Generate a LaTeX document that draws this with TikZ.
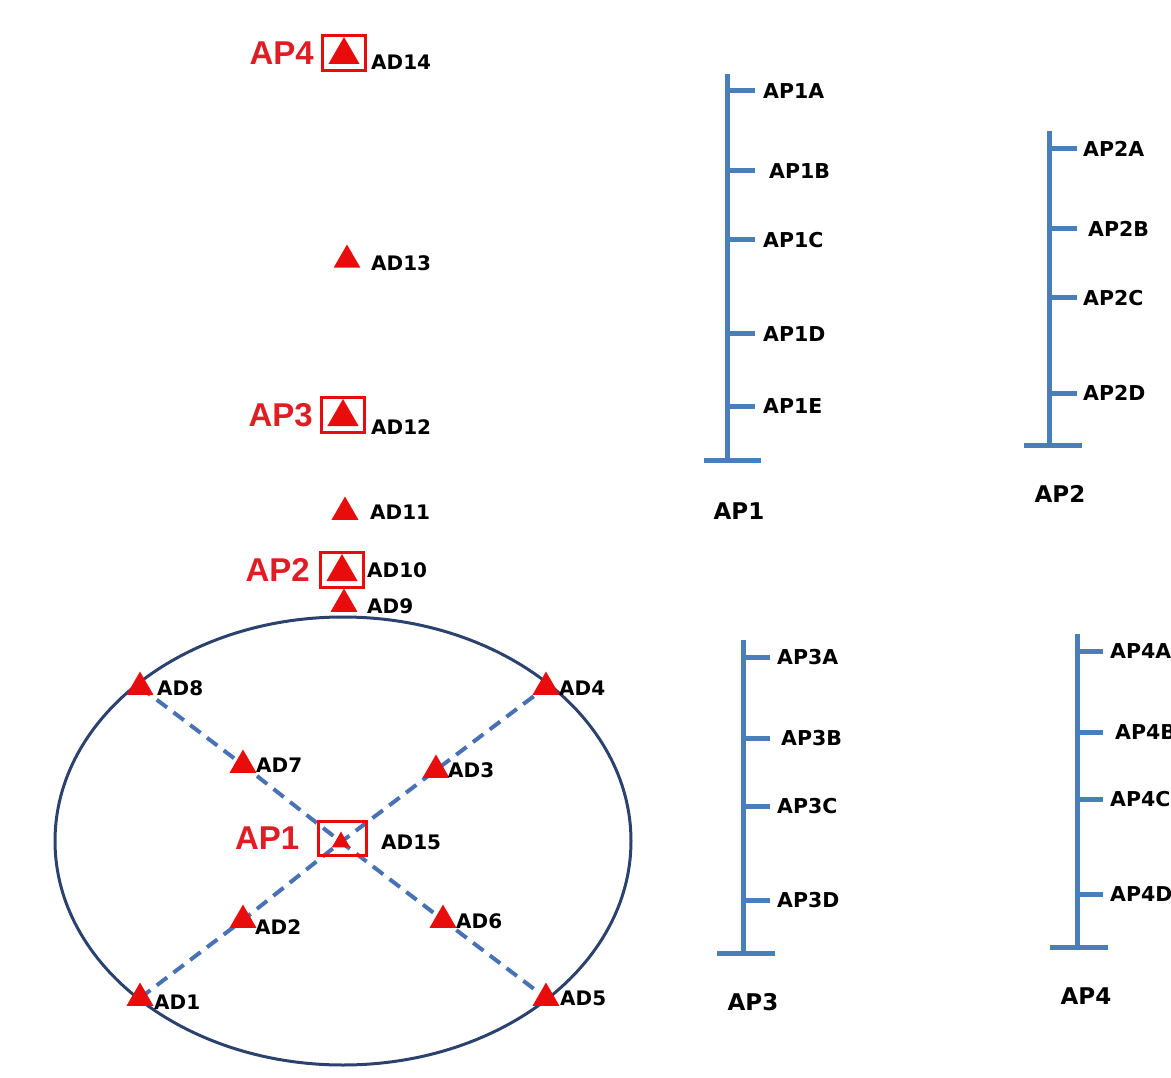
\documentclass[tikz,border=0pt]{standalone}
\usepackage{fontspec}
\setmainfont{DejaVu Sans}
\newfontfamily\redfont{Liberation Sans}
\usetikzlibrary{shapes.geometric,backgrounds}
\definecolor{tri}{RGB}{232,12,12}
\definecolor{aptxt}{RGB}{222,30,36}
\definecolor{colblue}{RGB}{74,126,187}
\definecolor{dashblue}{RGB}{72,114,180}
\definecolor{ellcol}{RGB}{43,66,110}
\tikzset{
  tri/.style={regular polygon, regular polygon sides=3, fill=tri, draw=none, inner sep=0pt, minimum size=31pt},
  bigtri/.style={tri, minimum size=36pt},
  smalltri/.style={tri, minimum size=21pt},
  apbox/.style={draw=tri, line width=3pt, minimum width=43pt, minimum height=35pt, inner sep=0pt},
  adlab/.style={anchor=west, inner sep=0pt, font=\bfseries\fontsize{20}{22}\selectfont},
  aplab/.style={anchor=east, inner sep=0pt, text=aptxt, font=\redfont\bfseries\fontsize{33}{35}\selectfont},
  ticklab/.style={anchor=west, inner sep=0pt, font=\bfseries\fontsize{20.5}{22}\selectfont},
  coltitle/.style={inner sep=0pt, font=\bfseries\fontsize{23}{25}\selectfont},
  col/.style={draw=colblue, line width=5pt},
  diag/.style={draw=dashblue, line width=4pt, dash pattern=on 13pt off 8pt},
}
\begin{document}
\begin{tikzpicture}[x=1pt,y=-1pt]
\useasboundingbox (0,0) rectangle (1171,1078);
% ---- ellipse
\draw[ellcol, line width=3pt] (343,841) ellipse [x radius=288, y radius=224];
% ---- vertical stack
\node[apbox] (b14) at (344,53) {};
\node[bigtri] (t14) at (344,55) {};
\node[aplab] (ap4) at ([xshift=-7pt]b14.west) {AP4};
\node[adlab] (l14) at (371,62) {AD14};

\node[tri] (t13) at (347,260) {};
\node[adlab] (l13) at (371,263) {AD13};

\node[apbox] (b12) at (343,415) {};
\node[bigtri] (t12) at (343,417) {};
\node[aplab] (ap3) at ([xshift=-7pt]b12.west) {AP3};
\node[adlab] (l12) at (371,427) {AD12};

\node[tri] (t11) at (345,512) {};
\node[adlab] (l11) at (370,512) {AD11};

\node[apbox] (b10) at (342,570) {};
\node[bigtri] (t10) at (342,572) {};
\node[aplab] (ap2) at ([xshift=-9pt]b10.west) {AP2};
\node[adlab] (l10) at (367,570) {AD10};

\node[tri] (t9) at (344,604) {};
\node[adlab] (l9) at (367,606) {AD9};

% ---- cross
\node[tri] (t8) at (140,687) {};
\node[tri] (t4) at (546,687) {};
\node[tri] (t1) at (140,998) {};
\node[tri] (t5) at (546,998) {};
\node[tri] (t7) at (243,765) {};
\node[tri] (t3) at (436,770) {};
\node[tri] (t2) at (243,920) {};
\node[tri] (t6) at (443,920) {};
\node[apbox, minimum width=48pt, minimum height=34pt] (b15) at (342,838) {};
\node[smalltri] (t15) at (341,842) {};
\node[aplab] (ap1) at ([xshift=-17pt]b15.west) {AP1};
\node[adlab] (l15) at (381,842) {AD15};
\begin{scope}[on background layer]
  \draw[diag] (t8.center) -- (t7.center) -- (t15.center) -- (t6.center) -- (t5.center);
  \draw[diag] (t1.center) -- (t2.center) -- (t15.center) -- (t3.center) -- (t4.center);
\end{scope}
\node[adlab] (l8) at (157,688) {AD8};
\node[adlab] (l4) at (559,688) {AD4};
\node[adlab] (l7) at (256,765) {AD7};
\node[adlab] (l3) at (448,770) {AD3};
\node[adlab] (l2) at (255,927) {AD2};
\node[adlab] (l6) at (456,921) {AD6};
\node[adlab] (l1) at (154,1002) {AD1};
\node[adlab] (l5) at (560,998) {AD5};

% ---- column AP1
\coordinate (c1t) at (727,74);
\coordinate (c1b) at (727,460);
\draw[col] (c1t) -- (c1b);
\draw[col] (704,460) -- (761,460);
\node[coltitle] (ap1t) at (739,511) {AP1};
\foreach \y/\lx/\t in {91/763/AP1A, 171/769/AP1B, 240/763/AP1C, 334/763/AP1D, 406/763/AP1E}{
  \node[ticklab] (\t) at (\lx,\y) {\t};
  \draw[col] (727,\y) -- (755,\y);
}
% ---- column AP2
\coordinate (c2t) at (1049,131);
\coordinate (c2b) at (1049,445);
\draw[col] (c2t) -- (c2b);
\draw[col] (1024,445) -- (1082,445);
\node[coltitle] (ap2t) at (1060,494) {AP2};
\foreach \y/\lx/\t in {149/1083/AP2A, 229/1088/AP2B, 298/1083/AP2C, 393/1083/AP2D}{
  \node[ticklab] (\t) at (\lx,\y) {\t};
  \draw[col] (1049,\y) -- (1077,\y);
}
% ---- column AP3
\coordinate (c3t) at (743,640);
\coordinate (c3b) at (743,953);
\draw[col] (c3t) -- (c3b);
\draw[col] (717,953) -- (775,953);
\node[coltitle] (ap3t) at (753,1002) {AP3};
\foreach \y/\lx/\t in {657/777/AP3A, 738/781/AP3B, 806/777/AP3C, 900/777/AP3D}{
  \node[ticklab] (\t) at (\lx,\y) {\t};
  \draw[col] (743,\y) -- (770,\y);
}
% ---- column AP4
\coordinate (c4t) at (1077,634);
\coordinate (c4b) at (1077,947);
\draw[col] (c4t) -- (c4b);
\draw[col] (1050,947) -- (1108,947);
\node[coltitle] (ap4t) at (1086,996) {AP4};
\foreach \y/\lx/\t in {651/1110/AP4A, 732/1115/AP4B, 799/1110/AP4C, 894/1110/AP4D}{
  \node[ticklab] (\t) at (\lx,\y) {\t};
  \draw[col] (1077,\y) -- (1103,\y);
}
\end{tikzpicture}
\end{document}
